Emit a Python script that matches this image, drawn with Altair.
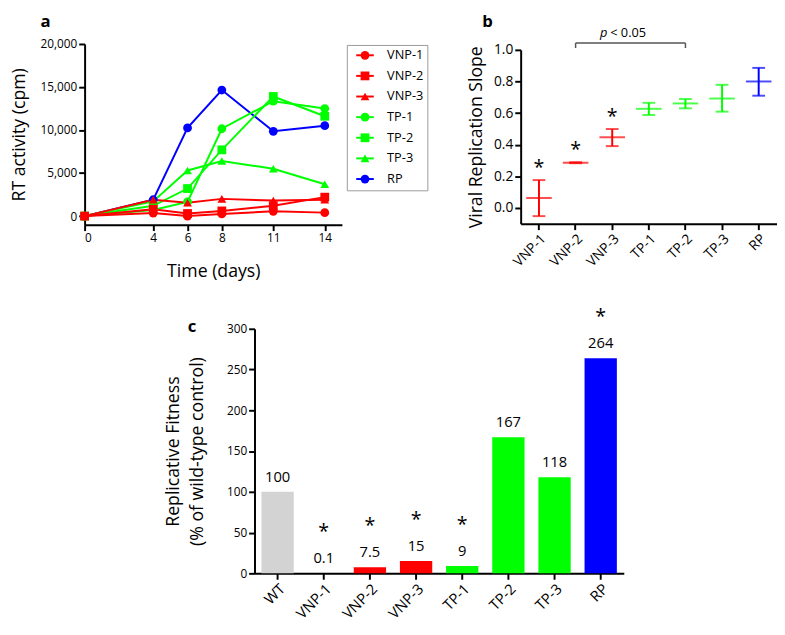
import altair as alt
import pandas as pd

FONT = "Open Sans"
RED, GREEN, BLUE, GRAY = "#ff0000", "#00ff00", "#0000ff", "#d3d3d3"

# ---------------- panel a data ----------------
days = [0, 4, 6, 8, 11, 14]
series_names = ["VNP-1", "VNP-2", "VNP-3", "TP-1", "TP-2", "TP-3", "RP"]
rt_vnp1 = [0, 350, 0, 250, 550, 400]
rt_vnp2 = [0, 800, 300, 600, 1200, 2200]
rt_vnp3 = [0, 1900, 1550, 2000, 1800, 1900]
rt_tp1 = [0, 700, 1650, 10150, 13350, 12500]
rt_tp2 = [0, 1200, 3200, 7700, 13900, 11600]
rt_tp3 = [0, 1700, 5300, 6400, 5500, 3700]
rt_rp = [0, 1900, 10250, 14650, 9850, 10500]
series_values = [rt_vnp1, rt_vnp2, rt_vnp3, rt_tp1, rt_tp2, rt_tp3, rt_rp]
series_colors = [RED, RED, RED, GREEN, GREEN, GREEN, BLUE]
series_shapes = ["circle", "square", "triangle-up", "circle", "square", "triangle-up", "circle"]
a_yticks = [0, 5000, 10000, 15000, 20000]

# ---------------- panel b data ----------------
slope_mean = [0.062, 0.286, 0.447, 0.627, 0.661, 0.692, 0.80]
slope_low = [-0.052, 0.283, 0.391, 0.588, 0.63, 0.609, 0.71]
slope_high = [0.176, 0.289, 0.499, 0.665, 0.689, 0.779, 0.886]
slope_star = ["*", "*", "*", "", "", "", ""]
b_yticks = [0.0, 0.2, 0.4, 0.6, 0.8, 1.0]

# ---------------- panel c data ----------------
fit_groups = ["WT", "VNP-1", "VNP-2", "VNP-3", "TP-1", "TP-2", "TP-3", "RP"]
fit_values = [100, 0.1, 7.5, 15, 9, 167, 118, 264]
fit_labels = ["100", "0.1", "7.5", "15", "9", "167", "118", "264"]
fit_star = ["", "*", "*", "*", "*", "", "", "*"]
fit_colors = [GRAY, RED, RED, RED, GREEN, GREEN, GREEN, BLUE]
c_yticks = [0, 50, 100, 150, 200, 250, 300]

AX = dict(domainColor="black", domainWidth=2, tickColor="black", tickWidth=2,
          tickSize=6, labelColor="black", labelFont=FONT, titleFont=FONT,
          titleColor="black", titleFontWeight="normal", grid=False)

# ---------------- panel a ----------------
# line layer uses its own (space-suffixed) keys so its legend is not merged
line_names = [n + " " for n in series_names]
rows = []
for name, lname, vals in reversed(list(zip(series_names, line_names, series_values))):
    for d, v in zip(days, vals):
        rows.append({"series": name, "line_series": lname, "day": d, "rt": v})
df_a = pd.DataFrame(rows)

xa = alt.X("day:Q", scale=alt.Scale(domain=[0, 15], nice=False),
           axis=alt.Axis(values=days, title="Time (days)", labelFontSize=12,
                         titleFontSize=18, titlePadding=20, **AX))
ya = alt.Y("rt:Q", scale=alt.Scale(domain=[-1000, 20000], nice=False),
           axis=alt.Axis(values=a_yticks, format=",.0f", title="RT activity (cpm)",
                         labelFontSize=12, titleFontSize=18, titlePadding=12, **AX))

leg_common = dict(title=None, orient="none", legendX=267, legendY=1,
                  labelFont=FONT, labelFontSize=13, labelColor="black",
                  symbolSize=80, rowPadding=7, padding=4, symbolOffset=8,
                  labelOffset=16)

lines = alt.Chart(df_a).mark_line(strokeWidth=2).encode(
    x=xa, y=ya,
    stroke=alt.Stroke("line_series:N",
                      scale=alt.Scale(domain=line_names, range=series_colors),
                      legend=alt.Legend(symbolType="M-2,0L2,0", symbolStrokeWidth=2,
                                        symbolFillColor="transparent",
                                        labelOpacity=0, strokeColor="#9a9a9a",
                                        **leg_common)),
    detail="line_series:N",
)
shape_legend = alt.Legend(**leg_common)
points = alt.Chart(df_a).mark_point(filled=True, size=80, opacity=1).encode(
    x=xa, y=ya,
    color=alt.Color("series:N",
                    scale=alt.Scale(domain=series_names, range=series_colors),
                    legend=shape_legend),
    shape=alt.Shape("series:N",
                    scale=alt.Scale(domain=series_names, range=series_shapes),
                    legend=shape_legend),
)
panel_a = alt.layer(lines, points).properties(
    width=262, height=184,
    title=alt.TitleParams("a", anchor="start", frame="group", fontSize=17,
                          fontWeight="bold", font=FONT, dx=-45, offset=13, dy=6),
)

# ---------------- panel b ----------------
df_b = pd.DataFrame({"grp": series_names, "mean": slope_mean, "low": slope_low,
                     "high": slope_high, "star": slope_star})
xb_scale = alt.Scale(domain=series_names)
xb_axis = alt.Axis(title=None, labelAngle=-45, labelFontSize=14, **AX)
xb = alt.X("grp:N", sort=series_names, scale=xb_scale, axis=xb_axis)
yscale_b = alt.Scale(domain=[-0.1, 1.0], nice=False, rangeMax=6)
yb_axis = alt.Axis(values=b_yticks, format=".1f", title="Viral Replication Slope",
                   labelFontSize=14, titleFontSize=18, titlePadding=8, **AX)


def yb(field):
    return alt.Y(field, scale=yscale_b, axis=yb_axis)


cb = alt.Color("grp:N", scale=alt.Scale(domain=series_names, range=series_colors),
               legend=None)
base_b = alt.Chart(df_b)
vbar = base_b.mark_rule(strokeWidth=2).encode(x=xb, y=yb("low:Q"), y2="high:Q", color=cb)
cap_lo = base_b.mark_tick(size=13, thickness=2).encode(x=xb, y=yb("low:Q"), color=cb)
cap_hi = base_b.mark_tick(size=13, thickness=2).encode(x=xb, y=yb("high:Q"), color=cb)
mean_t = base_b.mark_tick(size=26, thickness=2).encode(x=xb, y=yb("mean:Q"), color=cb)
stars_b = base_b.transform_filter("datum.star != ''").mark_text(
    fontSize=20, font=FONT, color="black", dy=-12).encode(
    x=xb, y=yb("high:Q"), text="star:N")

df_br = pd.DataFrame({"grp": ["VNP-2"], "end": ["TP-2"], "top": [1.043], "bot": [1.012]})
df_brt = pd.DataFrame({"grp": ["VNP-2", "TP-2"], "top": [1.043, 1.043], "bot": [1.012, 1.012]})
br_h = alt.Chart(df_br).mark_rule(color="#555555", strokeWidth=1.5).encode(
    x=xb, x2="end:N", y=yb("top:Q"))
br_v = alt.Chart(df_brt).mark_rule(color="#555555", strokeWidth=1.5).encode(
    x=xb, y=yb("top:Q"), y2="bot:Q")
df_p = pd.DataFrame({"grp": ["VNP-3"], "ypos": [1.105]})
p_it = alt.Chart(df_p).mark_text(text="p", fontStyle="italic", font=FONT, fontSize=13,
                                 align="right", dx=-5, color="black").encode(
    x=xb, y=yb("ypos:Q"))
p_rest = alt.Chart(df_p).mark_text(text="< 0.05", font=FONT, fontSize=13,
                                   align="left", dx=-2, color="black").encode(
    x=xb, y=yb("ypos:Q"))

panel_b = alt.layer(vbar, cap_lo, cap_hi, mean_t, stars_b, br_h, br_v, p_it, p_rest).properties(
    width=261, height=183,
    title=alt.TitleParams("b", anchor="start", frame="group", fontSize=17,
                          fontWeight="bold", font=FONT, dx=-39, offset=2, dy=6),
)

# ---------------- panel c ----------------
df_c = pd.DataFrame({"cat": fit_groups, "value": fit_values, "label": fit_labels,
                     "star": fit_star})
xc = alt.X("cat:N", sort=fit_groups,
           scale=alt.Scale(domain=fit_groups, paddingInner=0.3, paddingOuter=0.15),
           axis=alt.Axis(title=None, labelAngle=-45, labelFontSize=15, **AX))
yc = alt.Y("value:Q", scale=alt.Scale(domain=[0, 300], nice=False),
           axis=alt.Axis(values=c_yticks, title=["Replicative Fitness", "(% of wild-type control)"],
                         titleLineHeight=25, labelFontSize=12, titleFontSize=18,
                         titlePadding=20, **AX))
bars = alt.Chart(df_c).mark_bar().encode(
    x=xc, y=yc,
    fill=alt.Fill("cat:N", scale=alt.Scale(domain=fit_groups, range=fit_colors),
                  legend=None))
vals_c = alt.Chart(df_c).mark_text(fontSize=15, font=FONT, color="black", dy=-15).encode(
    x=xc, y=yc, text="label:N")
stars_c = alt.Chart(df_c).transform_filter("datum.star != ''").mark_text(
    fontSize=20, font=FONT, color="black", dy=-42).encode(
    x=xc, y=yc, text="star:N")
panel_c = alt.layer(bars, vals_c, stars_c).properties(
    width=376, height=249,
    title=alt.TitleParams("c", anchor="start", frame="group", fontSize=17,
                          fontWeight="bold", font=FONT, dx=-68, offset=0, dy=29),
)

# empty spacer that shifts panel c to the right
spacer = alt.Chart(pd.DataFrame({"v": [0]})).mark_point(opacity=0).properties(
    width=81, height=10)

top = alt.hconcat(panel_a, panel_b, spacing=40).resolve_scale(
    color="independent", stroke="independent", shape="independent", fill="independent")
bottom = alt.hconcat(spacer, panel_c, spacing=0)
chart = alt.vconcat(top, bottom, spacing=26).resolve_scale(
    color="independent", stroke="independent", shape="independent", fill="independent"
).configure_view(stroke=None).properties(
    padding={"left": 2, "top": 0, "right": 0, "bottom": 0})

chart.save("out.html", embed_options={"renderer": "svg", "actions": False})
